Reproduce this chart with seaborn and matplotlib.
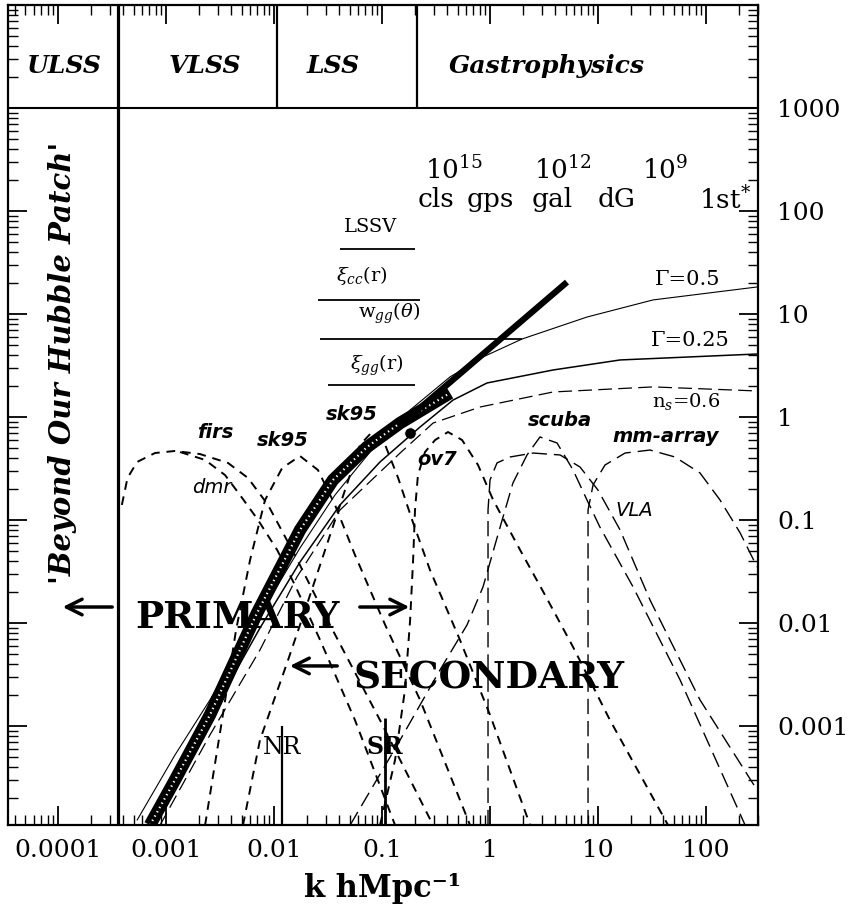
import matplotlib
matplotlib.use("Agg")
import matplotlib.pyplot as plt
import matplotlib.ticker as mticker
import seaborn as sns

# ------------------------------------------------------------------ data
# model spectra
k_g05 = [5.4e-4, 1.21e-3, 2.55e-3, 4.84e-3, 8.61e-3, 0.0174, 0.0367, 0.0774, 0.182, 0.426, 0.861, 1.98, 7.91, 32.3, 297]
p_g05 = [1.22e-4, 5.23e-4, 1.79e-3, 5.85e-3, 0.0156, 0.0535, 0.175, 0.457, 1.17, 2.45, 3.83, 5.72, 9.35, 13.7, 18.3]
k_g025 = [7.1e-4, 2.06e-3, 7.41e-3, 0.0174, 0.0408, 0.0958, 0.225, 0.454, 0.938, 3.83, 16.0, 297]
p_g025 = [1.09e-4, 8.18e-4, 8.94e-3, 0.0391, 0.14, 0.366, 0.80, 1.46, 2.14, 2.86, 3.58, 4.09]
k_ns06 = [8.8e-4, 2.55e-3, 7.41e-3, 0.0163, 0.0408, 0.147, 0.297, 0.808, 3.83, 32.3, 297]
p_ns06 = [1.09e-4, 8.18e-4, 5.47e-3, 0.028, 0.125, 0.447, 0.874, 1.25, 1.75, 1.96, 1.79]
# observed band and extrapolation
k_band = [7.1e-4, 1.21e-3, 2.55e-3, 6.96e-3, 0.0174, 0.0352, 0.0726, 0.147, 0.426]
p_band = [1.09e-4, 2.99e-4, 1.28e-3, 0.0125, 0.080, 0.245, 0.511, 0.874, 1.71]
k_thick = [0.147, 5.16]
p_thick = [0.836, 20.4]
k_dot = [0.182]
p_dot = [0.70]
# window functions (short dashes)
k_firs = [3.9e-4, 4.4e-4, 5.4e-4, 7.9e-4, 1.21e-3, 2.06e-3, 3.75e-3, 5.74e-3, 8.8e-3, 0.0156, 0.033, 0.0958, 0.297]
p_firs = [0.140, 0.256, 0.366, 0.447, 0.468, 0.437, 0.358, 0.256, 0.140, 0.0457, 0.00957, 0.00114, 1.09e-4]
k_dmr = [1.35e-3, 2.30e-3, 3.52e-3, 4.84e-3, 7.11e-3, 0.0107, 0.0156, 0.0267, 0.0562, 0.132]
p_dmr = [0.457, 0.383, 0.273, 0.175, 0.10, 0.0511, 0.0234, 0.00684, 0.00114, 1.09e-4]
k_sk95a = [2.30e-3, 3.30e-3, 4.45e-3, 6.0e-3, 8.25e-3, 0.0119, 0.0174, 0.0255, 0.0367, 0.0562, 0.107, 0.225, 0.653]
p_sk95a = [1.09e-4, 1.14e-3, 8.55e-3, 0.0409, 0.156, 0.32, 0.418, 0.306, 0.14, 0.0457, 0.00957, 0.00179, 1.09e-4]
k_sk95b = [5.16e-3, 7.41e-3, 0.0132, 0.0194, 0.0297, 0.0454, 0.0625, 0.0807, 0.107, 0.141, 0.190, 0.278, 0.527, 1.0, 2.35]
p_sk95b = [1.09e-4, 7.31e-4, 4.09e-3, 0.0134, 0.0511, 0.195, 0.535, 0.715, 0.535, 0.256, 0.10, 0.0327, 0.00684, 0.00128, 1.09e-4]
k_ov7 = [0.0958, 0.132, 0.163, 0.182, 0.194, 0.202, 0.215, 0.25, 0.31, 0.408, 0.551, 0.774, 1.07, 1.90, 3.23, 5.87, 12.9, 44.5]
p_ov7 = [1.09e-4, 4.68e-4, 2.24e-3, 0.0107, 0.0409, 0.125, 0.273, 0.457, 0.598, 0.715, 0.598, 0.342, 0.156, 0.0511, 0.0187, 0.00585, 0.00114, 1.09e-4]
# window functions (long dashes)
k_scuba = [0.0506, 0.147, 0.344, 0.612, 0.861, 1.24, 1.63, 2.20, 2.90, 4.17, 5.87, 7.91, 10.4, 21.1, 57.5, 230]
p_scuba = [1.09e-4, 7.31e-4, 3.5e-3, 9.57e-3, 0.0224, 0.0855, 0.229, 0.428, 0.64, 0.56, 0.306, 0.156, 0.0855, 0.0224, 2.8e-3, 1.09e-4]
k_vla = [0.958, 0.958, 1.0, 1.16, 1.53, 2.50, 4.45, 6.81, 10.0, 16.0, 30.3, 88.0, 297]
p_vla = [1.09e-4, 0.125, 0.245, 0.358, 0.409, 0.447, 0.428, 0.327, 0.195, 0.08, 0.0167, 1.79e-3, 2.39e-4]
k_mm = [8.08, 8.08, 8.99, 11.6, 17.8, 30.3, 51.6, 88.0, 135, 207, 297]
p_mm = [1.09e-4, 0.125, 0.219, 0.342, 0.447, 0.478, 0.409, 0.286, 0.156, 0.0748, 0.035]
# probe ranges (k start, k end, level)
probe_names = ["LSSV", r"$\xi_{cc}$(r)", r"w$_{gg}$($\theta$)", r"$\xi_{gg}$(r)"]
probe_kmin = [0.0408, 0.0255, 0.0267, 0.0316]
probe_kmax = [0.202, 0.225, 1.98, 0.202]
probe_level = [42.8, 13.7, 5.72, 2.05]
probe_text_k = [0.079, 0.0653, 0.116, 0.090]
probe_text_p = [70, 23.9, 10.2, 3.2]
# scale regions
k_hubble = 3.6e-4
k_region_edges = [0.0107, 0.211]
region_names = ["ULSS", "VLSS", "LSS", "Gastrophysics"]
region_k = [1.14e-4, 2.3e-3, 0.0352, 3.37]
# mass scale annotations
mass_labels = [r"10$^{15}$", r"10$^{12}$", r"10$^{9}$"]
mass_k = [0.464, 4.74, 41.7]
obj_labels = ["cls", "gps", "gal", "dG", r"1st$^{*}$"]
obj_k = [0.316, 1.0, 3.75, 15.0, 150]
# NR / SR
k_nr, k_sr = 0.0119, 0.107
xtick_vals = [1e-4, 1e-3, 1e-2, 1e-1, 1, 10, 100]
xtick_labels = ["0.0001", "0.001", "0.01", "0.1", "1", "10", "100"]
ytick_vals = [1e-3, 1e-2, 1e-1, 1, 10, 100, 1000]
ytick_labels = ["0.001", "0.01", "0.1", "1", "10", "100", "1000"]

# ------------------------------------------------------------------ style
sns.set_theme(style="ticks")
plt.rcParams["font.family"] = ["DejaVu Serif"]
plt.rcParams["mathtext.fontset"] = "dejavuserif"
for key in ["text.color", "axes.labelcolor", "xtick.color", "ytick.color", "axes.edgecolor"]:
    plt.rcParams[key] = "black"

fig = plt.figure(figsize=(8.67, 9.14), dpi=100)
ax = fig.add_axes([8 / 867, 1 - 825 / 914, 750 / 867, 820 / 914])
ax.set_xscale("log")
ax.set_yscale("log")
ax.set_xlim(10 ** -4.463, 10 ** 2.481)
ax.set_ylim(10 ** -3.961, 1e4)

SHORT = (0, (4.5, 3.5))
LONG = (0, (11, 5))

def line(k, p, **kw):
    sns.lineplot(x=k, y=p, ax=ax, sort=False, estimator=None, legend=False,
                 color="black", **kw)

line(k_g05, p_g05, lw=0.8)
line(k_g025, p_g025, lw=1.1)
line(k_ns06, p_ns06, lw=0.9, linestyle=LONG)
for kk, pp in [(k_firs, p_firs), (k_dmr, p_dmr), (k_sk95a, p_sk95a),
               (k_sk95b, p_sk95b), (k_ov7, p_ov7)]:
    line(kk, pp, lw=1.4, linestyle=SHORT)
for kk, pp in [(k_scuba, p_scuba), (k_vla, p_vla), (k_mm, p_mm)]:
    line(kk, pp, lw=1.0, linestyle=LONG)

# observed band (hatched look)
line(k_band, p_band, lw=9, solid_capstyle="butt")
ax.plot(k_band, p_band, color="white", lw=1.6, linestyle=(0, (0.6, 1.6)))
line(k_thick, p_thick, lw=4.5, solid_capstyle="butt")
sns.scatterplot(x=k_dot, y=p_dot, ax=ax, color="black", s=70, legend=False)

# region structure
ax.axvline(k_hubble, color="black", lw=2.3)
ax.vlines(k_region_edges, 1000, 1e4, color="black", lw=1.6)
ax.axhline(1000, color="black", lw=1.5)
for name, kx in zip(region_names, region_k):
    ax.text(kx, 2550, name, ha="center", va="center", fontsize=18,
            fontweight="bold", style="italic")

ax.text(1.09e-4, 3.34, "'Beyond Our Hubble Patch'", rotation=90, ha="center",
        va="center", fontsize=21, fontweight="bold", style="italic")

# probes
for name, k0, k1, lev, tk, tp in zip(probe_names, probe_kmin, probe_kmax,
                                     probe_level, probe_text_k, probe_text_p):
    ax.hlines(lev, k0, k1, color="black", lw=1.3)
    ax.text(tk, tp, name, ha="center", va="center", fontsize=14)

# mass scales
for lab, kx in zip(mass_labels, mass_k):
    ax.text(kx, 250, lab, ha="center", va="center", fontsize=19)
for lab, kx in zip(obj_labels, obj_k):
    ax.text(kx, 128, lab, ha="center", va="center", fontsize=19)

# window labels
sans_bi = dict(family="DejaVu Sans", fontweight="bold", style="italic", fontsize=14)
sans_i = dict(family="DejaVu Sans", style="italic", fontsize=14)
ax.text(2.84e-3, 0.715, "firs", ha="center", va="center", **sans_bi)
ax.text(2.67e-3, 0.205, "dmr", ha="center", va="center", **sans_i)
ax.text(0.0121, 0.585, "sk95", ha="center", va="center", **sans_bi)
ax.text(0.0527, 1.05, "sk95", ha="center", va="center", **sans_bi)
ax.text(0.323, 0.383, "ov7", ha="center", va="center", **sans_bi)
ax.text(4.45, 0.935, "scuba", ha="center", va="center", **sans_bi)
ax.text(42.6, 0.654, "mm-array", ha="center", va="center", **sans_bi)
ax.text(21.5, 0.125, "VLA", ha="center", va="center", **sans_i)
ax.text(68.1, 21.4, "Γ=0.5", ha="center", va="center", fontsize=15)
ax.text(71.1, 5.47, "Γ=0.25", ha="center", va="center", fontsize=15)
ax.text(65.3, 1.40, r"n$_s$=0.6", ha="center", va="center", fontsize=14)

# primary / secondary
ax.text(4.54e-3, 0.0114, "PRIMARY", ha="center", va="center", fontsize=27,
        fontweight="bold")
ax.text(0.98, 2.92e-3, "SECONDARY", ha="center", va="center", fontsize=27,
        fontweight="bold")
arrow = dict(arrowstyle="->", lw=2.5, color="black", mutation_scale=28)
ax.annotate("", xy=(1.04e-4, 0.0143), xytext=(3.37e-4, 0.0143), arrowprops=arrow)
ax.annotate("", xy=(0.190, 0.0143), xytext=(0.0587, 0.0143), arrowprops=arrow)
ax.annotate("", xy=(0.0132, 3.83e-3), xytext=(0.0408, 3.83e-3), arrowprops=arrow)

ax.vlines([k_nr], 1.09e-4, 1.0e-3, color="black", lw=1.6)
ax.vlines([k_sr], 1.09e-4, 1.2e-3, color="black", lw=2.0)
ax.text(k_nr, 6.25e-4, "NR", ha="center", va="center", fontsize=17)
ax.text(k_sr, 6.25e-4, "SR", ha="center", va="center", fontsize=17, fontweight="bold")

# axes / ticks
ax.set_xticks(xtick_vals, xtick_labels)
ax.set_yticks(ytick_vals, ytick_labels)
ax.xaxis.set_minor_locator(mticker.LogLocator(base=10, subs=range(2, 10), numticks=100))
ax.yaxis.set_minor_locator(mticker.LogLocator(base=10, subs=range(2, 10), numticks=100))
ax.xaxis.set_minor_formatter(mticker.NullFormatter())
ax.yaxis.set_minor_formatter(mticker.NullFormatter())
ax.tick_params(which="both", direction="in", top=True, right=True, left=True,
               bottom=True, labelleft=False, labelright=True, color="black",
               labelcolor="black")
ax.tick_params(which="major", length=14, width=1.3, labelsize=18, pad=10)
ax.tick_params(which="minor", length=7, width=1.0)
ax.tick_params(axis="y", pad=14)
for s in ax.spines.values():
    s.set_linewidth(1.6)
    s.set_color("black")
ax.set_xlabel("k hMpc⁻¹", fontsize=22, fontweight="bold", labelpad=8, color="black")
ax.set_ylabel("")
ax.grid(False)

fig.savefig("out.png", dpi=100)
